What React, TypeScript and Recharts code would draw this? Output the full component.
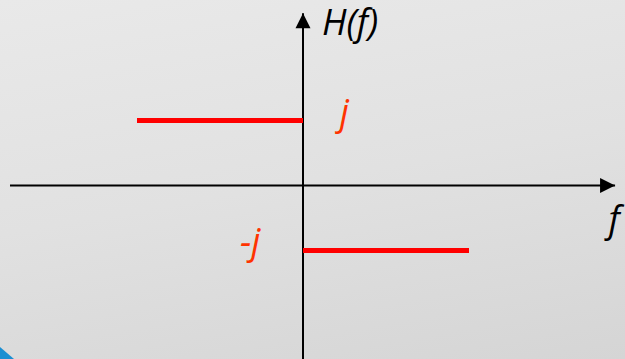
import React from 'react';
import { LineChart, Line, XAxis, YAxis, ReferenceDot } from 'recharts';

// ============================================================================
// Data
// ============================================================================

// H(f) = j for f < 0, -j for f > 0
const upperSegment = [
  { f: -1, h: 1 },
  { f: 0, h: 1 },
];
const lowerSegment = [
  { f: 0, h: -1 },
  { f: 1, h: -1 },
];

// axis arrows (drawn as series so they use the same scales)
const horizontalAxis = [
  { f: -1.765, h: 0 },
  { f: 1.88, h: 0 },
];
const verticalAxis = [
  { f: 0, h: -2.75 },
  { f: 0, h: 2.65 },
];

const labels = [
  { text: 'H(f)', f: 0.114, h: 2.31, color: '#000000' },
  { text: 'j', f: 0.222, h: 0.93, color: '#ff3300' },
  { text: '-j', f: -0.38, h: -1.06, color: '#ff3300' },
  { text: 'f', f: 1.84, h: -0.72, color: '#000000' },
];

const X_DOMAIN: [number, number] = [-303 / 166, 322 / 166];
const Y_DOMAIN: [number, number] = [-(359 - 185.5) / 65, 185.5 / 65];

const FONT = '"Open Sans", "Noto Sans", sans-serif';

// ============================================================================
// Helpers
// ============================================================================

const arrowDot = (dir: 'right' | 'up', len: number) => (props: any) => {
  const { cx, cy, index } = props;
  if (index !== len - 1) return <g key={`d-${dir}-${index}`} />;
  const s = 15;
  const pts =
    dir === 'right'
      ? `${cx},${cy} ${cx - s},${cy - s / 2} ${cx - s},${cy + s / 2}`
      : `${cx},${cy} ${cx - s / 2},${cy + s} ${cx + s / 2},${cy + s}`;
  return <polygon key={`d-${dir}-${index}`} points={pts} fill="#000" />;
};

const textLabel = (text: string, color: string) => (props: any) => {
  const vb = props.viewBox || {};
  return (
    <text
      x={vb.x}
      y={vb.y}
      fill={color}
      fontSize={36}
      fontStyle="italic"
      fontFamily={FONT}
      textAnchor="start"
    >
      {text}
    </text>
  );
};

// ============================================================================
// Component
// ============================================================================

export default function App() {
  return (
    <div
      style={{
        position: 'absolute',
        left: 0,
        top: 0,
        width: 625,
        height: 359,
        overflow: 'hidden',
        background: 'linear-gradient(170deg, #e9e9e9 0%, #e1e1e1 50%, #d5d5d5 100%)',
      }}
    >
      <LineChart width={625} height={359} margin={{ top: 0, right: 0, bottom: 0, left: 0 }}>
        <XAxis type="number" dataKey="f" domain={X_DOMAIN} allowDataOverflow hide />
        <YAxis type="number" dataKey="h" domain={Y_DOMAIN} allowDataOverflow hide />
        <Line
          data={horizontalAxis}
          dataKey="h"
          stroke="#000"
          strokeWidth={2}
          dot={arrowDot('right', horizontalAxis.length)}
          activeDot={false}
          isAnimationActive={false}
        />
        <Line
          data={verticalAxis}
          dataKey="h"
          stroke="#000"
          strokeWidth={2}
          dot={arrowDot('up', verticalAxis.length)}
          activeDot={false}
          isAnimationActive={false}
        />
        <Line
          data={upperSegment}
          dataKey="h"
          stroke="#ff0000"
          strokeWidth={5}
          dot={false}
          activeDot={false}
          isAnimationActive={false}
        />
        <Line
          data={lowerSegment}
          dataKey="h"
          stroke="#ff0000"
          strokeWidth={5}
          dot={false}
          activeDot={false}
          isAnimationActive={false}
        />
        {labels.map((l) => (
          <ReferenceDot
            key={l.text}
            x={l.f}
            y={l.h}
            r={0}
            fill="none"
            stroke="none"
            ifOverflow="visible"
            label={textLabel(l.text, l.color)}
          />
        ))}
      </LineChart>
      <div
        style={{
          position: 'absolute',
          left: 0,
          bottom: 0,
          width: 14,
          height: 12,
          background: '#1b8fd2',
          clipPath: 'polygon(0 0, 100% 100%, 0 100%)',
        }}
      />
    </div>
  );
}
